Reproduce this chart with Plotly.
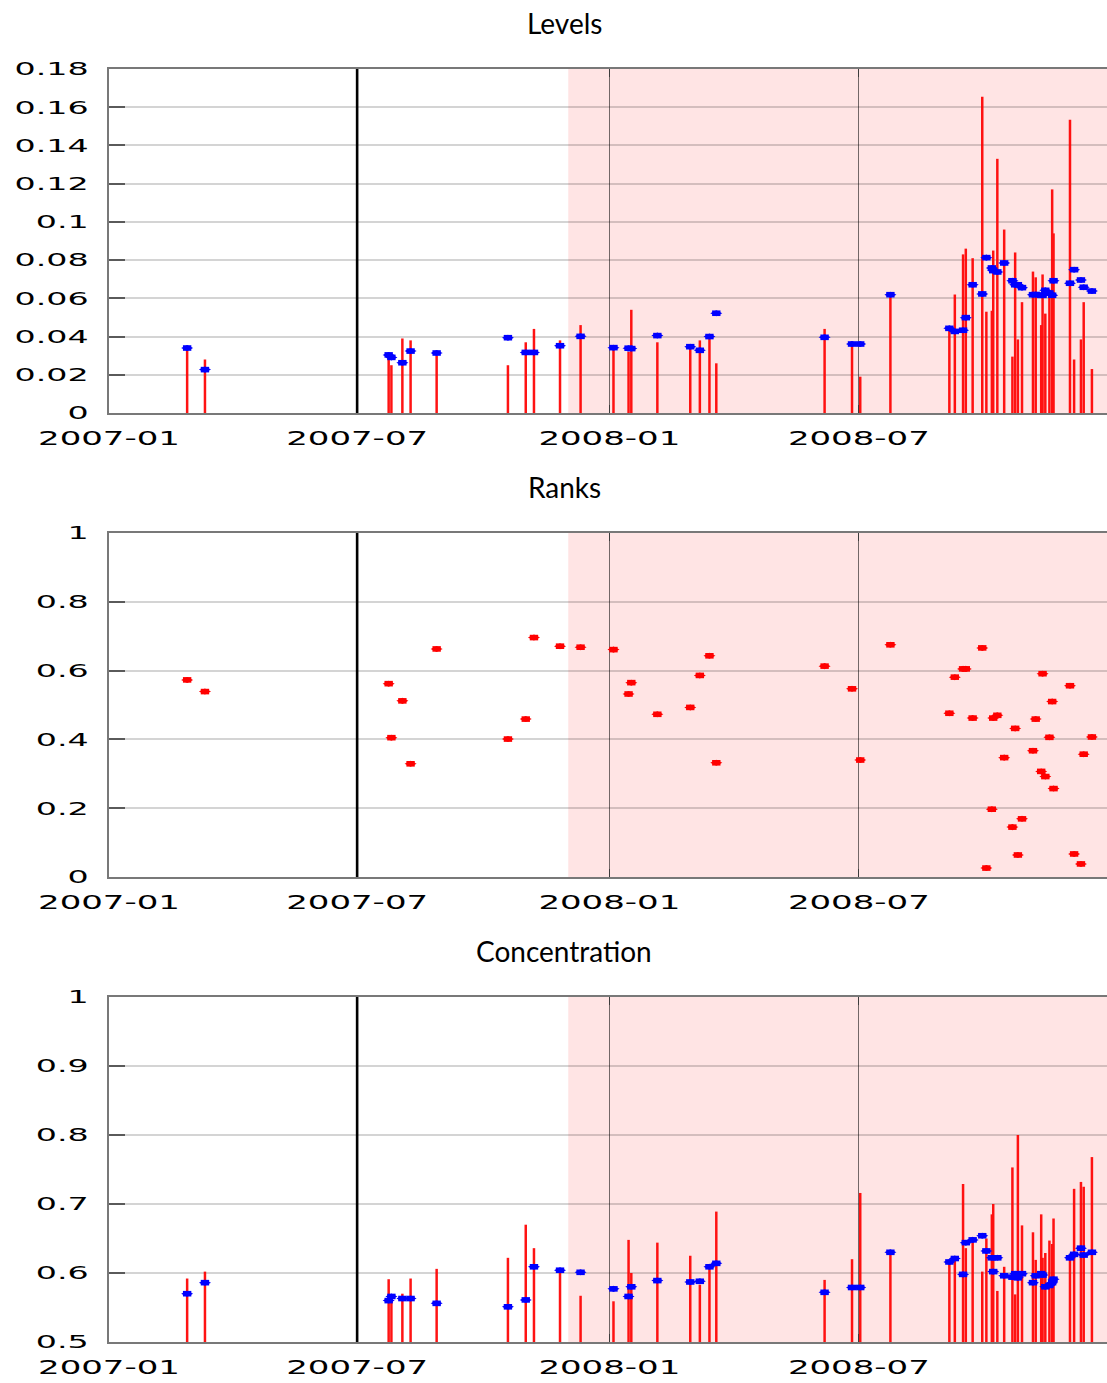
import plotly.graph_objects as go

# ---------------- data ----------------
dates = [
    "2007-02-27", "2007-03-12", "2007-07-24", "2007-07-26", "2007-08-03", "2007-08-09",
    "2007-08-28", "2007-10-19", "2007-11-01", "2007-11-07", "2007-11-26", "2007-12-11",
    "2008-01-04", "2008-01-15", "2008-01-17", "2008-02-05", "2008-02-29", "2008-03-07",
    "2008-03-14", "2008-03-19",
    "2008-06-06", "2008-06-26", "2008-07-02", "2008-07-24",
    "2008-09-05", "2008-09-09", "2008-09-15", "2008-09-17", "2008-09-22", "2008-09-29",
    "2008-10-02", "2008-10-06", "2008-10-07", "2008-10-10", "2008-10-15", "2008-10-21",
    "2008-10-23", "2008-10-25", "2008-10-28",
    "2008-11-05", "2008-11-07", "2008-11-11", "2008-11-12", "2008-11-14", "2008-11-17",
    "2008-11-19", "2008-11-20",
    "2008-12-02", "2008-12-05", "2008-12-10", "2008-12-12", "2008-12-18",
]

level_val = [
    0.034, 0.028, 0.030, 0.025, 0.039, 0.038, 0.030, 0.025, 0.037, 0.044, 0.038, 0.046,
    0.033, 0.032, 0.054, 0.037, 0.034, 0.038, 0.039, 0.026,
    0.044, 0.0375, 0.019, 0.061,
    0.043, 0.062, 0.083, 0.086, 0.081, 0.1655, 0.053, 0.0535, 0.085, 0.133, 0.096, 0.0295,
    0.084, 0.0385, 0.058,
    0.074, 0.071, 0.046, 0.0725, 0.052, 0.062, 0.117, 0.094,
    0.1535, 0.028, 0.0385, 0.058, 0.023,
]
level_avg = [
    0.0340, 0.0227, 0.0304, 0.0291, 0.0263, 0.0324, 0.0314, 0.0394, 0.0317, 0.0317, 0.0352, 0.0401,
    0.0342, 0.0339, 0.0337, 0.0405, 0.0347, 0.0328, 0.0400, 0.0522,
    0.0396, 0.0361, 0.0361, 0.0619,
    0.0443, 0.0427, 0.0433, 0.0499, 0.0671, 0.0623, 0.0813, 0.0759, 0.0745, 0.0738, 0.0785, 0.0692,
    0.0671, 0.0671, 0.0656,
    0.0619, 0.0620, 0.0616, 0.0616, 0.0642, 0.0628, 0.0616, 0.0692,
    0.0679, 0.0750, 0.0696, 0.0658, 0.0638,
]
rank_val = [
    0.573, 0.539, 0.562, 0.405, 0.512, 0.329, 0.663, 0.401, 0.459, 0.696, 0.671, 0.668,
    0.661, 0.532, 0.565, 0.473, 0.493, 0.586, 0.643, 0.332,
    0.613, 0.547, 0.340, 0.675,
    0.476, 0.581, 0.605, 0.605, 0.462, 0.666, 0.026, 0.197, 0.462, 0.470, 0.347, 0.145,
    0.432, 0.064, 0.169,
    0.367, 0.459, 0.307, 0.591, 0.292, 0.406, 0.510, 0.257,
    0.556, 0.067, 0.038, 0.357, 0.407,
]
conc_val = [
    0.592, 0.602, 0.591, 0.565, 0.570, 0.592, 0.606, 0.622, 0.670, 0.636, 0.603, 0.567,
    0.559, 0.648, 0.600, 0.644, 0.625, 0.583, 0.607, 0.689,
    0.590, 0.620, 0.716, 0.629,
    0.616, 0.620, 0.729, 0.636, 0.648, 0.602, 0.650, 0.685, 0.700, 0.574, 0.609, 0.753,
    0.569, 0.800, 0.669,
    0.659, 0.619, 0.685, 0.622, 0.629, 0.647, 0.642, 0.679,
    0.621, 0.722, 0.732, 0.725, 0.768,
]
conc_avg = [
    0.570, 0.586, 0.560, 0.566, 0.563, 0.563, 0.556, 0.551, 0.561, 0.609, 0.604, 0.601,
    0.577, 0.566, 0.580, 0.589, 0.587, 0.588, 0.609, 0.614,
    0.572, 0.579, 0.579, 0.630,
    0.616, 0.621, 0.598, 0.644, 0.648, 0.654, 0.632, 0.622, 0.602, 0.622, 0.596, 0.594,
    0.599, 0.593, 0.599,
    0.586, 0.596, 0.599, 0.597, 0.580, 0.582, 0.586, 0.591,
    0.622, 0.627, 0.636, 0.626, 0.630,
]

titles = ["Levels", "Ranks", "Concentration"]
y_ranges = [[0, 0.18], [0, 1], [0.5, 1]]
y_dticks = [0.02, 0.2, 0.1]
x_range = ["2007-01-01", "2008-12-29"]
break_date = "2007-07-01"
crisis_start = "2007-12-02"
crisis_end = "2009-01-01"

# ---------------- layout geometry ----------------
W, H = 1107, 1383
M_L, M_R, M_T, M_B = 109, 0, 69, 41
plot_h = H - M_T - M_B
panels_px = [(69, 413), (533, 877), (997, 1342)]  # top, bottom in page pixels
domains = [[1 - (b - M_T) / plot_h, 1 - (t - M_T) / plot_h] for t, b in panels_px]

RED = "rgb(255,0,0)"
BLUE = "rgb(0,0,255)"
GRID_H = "rgba(0,0,0,0.17)"
GRID_V = "rgba(0,0,0,0.55)"
AXIS_C = "rgb(120,120,120)"
XTICK_FONT = dict(family="DejaVu Sans", size=20, color="black")
YTICK_FONT = dict(family="DejaVu Sans", size=18, color="black")

fig = go.Figure()


def stems(xs, ys, base):
    sx, sy = [], []
    for x, y in zip(xs, ys):
        sx += [x, x, None]
        sy += [base, y, None]
    return sx, sy


def ellipse_dots(xs, ys, color, xa, ya):
    # an elliptical dot built from a wide diamond and a short thick horizontal bar
    fig.add_trace(go.Scatter(x=xs, y=ys, mode="markers", xaxis=xa, yaxis=ya,
                             marker=dict(symbol="diamond-wide", size=8.6, color=color,
                                         line=dict(width=0)),
                             showlegend=False, hoverinfo="skip"))
    fig.add_trace(go.Scatter(x=xs, y=ys, mode="markers", xaxis=xa, yaxis=ya,
                             marker=dict(symbol="line-ew", size=6.0,
                                         line=dict(width=5.6, color=color)),
                             showlegend=False, hoverinfo="skip"))


# Levels
sx, sy = stems(dates, level_val, 0)
fig.add_trace(go.Scatter(x=sx, y=sy, mode="lines", xaxis="x", yaxis="y",
                         line=dict(color=RED, width=2.5), opacity=0.92,
                         showlegend=False, hoverinfo="skip"))
ellipse_dots(dates, level_avg, BLUE, "x", "y")

# Ranks
ellipse_dots(dates, rank_val, RED, "x2", "y2")

# Concentration
sx, sy = stems(dates, conc_val, y_ranges[2][0])
fig.add_trace(go.Scatter(x=sx, y=sy, mode="lines", xaxis="x3", yaxis="y3",
                         line=dict(color=RED, width=2.5), opacity=0.92,
                         showlegend=False, hoverinfo="skip"))
ellipse_dots(dates, conc_avg, BLUE, "x3", "y3")

layout = dict(
    width=W, height=H,
    margin=dict(l=M_L, r=M_R, t=M_T, b=M_B, pad=0),
    paper_bgcolor="white", plot_bgcolor="white",
    showlegend=False,
)

shapes = []
annotations = []
for i in range(3):
    sfx = "" if i == 0 else str(i + 1)
    layout["xaxis" + sfx] = dict(
        domain=[0, 1], anchor="y" + sfx, type="date", range=x_range,
        tick0="2007-01-01", dtick="M6", tickformat="%Y-%m",
        showgrid=True, gridcolor=GRID_V, gridwidth=1,
        ticks="inside", ticklen=8, tickwidth=1, tickcolor="rgb(60,60,60)",
        showline=True, linecolor=AXIS_C, linewidth=1.5, mirror="ticks",
        tickfont=XTICK_FONT, ticklabelstandoff=6, zeroline=False,
    )
    layout["yaxis" + sfx] = dict(
        domain=domains[i], anchor="x" + sfx, range=y_ranges[i], dtick=y_dticks[i],
        tick0=y_ranges[i][0],
        showgrid=True, gridcolor=GRID_H, gridwidth=2,
        ticks="inside", ticklen=16, tickwidth=1.5, tickcolor="rgb(90,90,90)",
        showline=True, linecolor=AXIS_C, linewidth=1.5, mirror=False,
        tickfont=YTICK_FONT, ticklabelstandoff=15, zeroline=False,
    )
    # right-hand mirrored ticks (the right border itself lies off the page)
    layout["yaxis" + str(i + 4)] = dict(
        overlaying="y" + sfx, side="right", anchor="x" + sfx, range=y_ranges[i],
        dtick=y_dticks[i], tick0=y_ranges[i][0],
        showgrid=False, showline=False, zeroline=False, showticklabels=False,
        ticks="inside", ticklen=15, tickwidth=1.5, tickcolor="rgb(90,90,90)",
    )
    shapes.append(dict(type="rect", xref="x" + sfx, yref="y" + sfx + " domain",
                       x0=crisis_start, x1=crisis_end, y0=0, y1=1,
                       fillcolor="rgba(255,0,0,0.105)", line=dict(width=0), layer="below"))
    shapes.append(dict(type="line", xref="x" + sfx, yref="y" + sfx + " domain",
                       x0=break_date, x1=break_date, y0=0, y1=1,
                       line=dict(color="black", width=2.6), layer="above"))
    annotations.append(dict(text=titles[i], xref="paper", yref="paper",
                            x=(564 - M_L) / (W - M_L - M_R), y=domains[i][1],
                            xanchor="center", yanchor="middle", yshift=46,
                            showarrow=False,
                            font=dict(family="Lato", size=28, color="black")))

layout["shapes"] = shapes
layout["annotations"] = annotations
fig.update_layout(**layout)

# widen the tick-label glyphs horizontally (the reference uses a very wide face)
post = """
var gd = document.getElementById('{plot_id}');
function stretch(sel, s, anchor){
  gd.querySelectorAll(sel).forEach(function(t){
    var cur = t.getAttribute('transform') || '';
    var last = t.getAttribute('data-stretched');
    var orig = (last !== null && cur === last) ? t.getAttribute('data-orig') : cur;
    t.setAttribute('data-orig', orig);
    var b = t.getBBox();
    var cx = (anchor === 'end') ? (b.x + b.width) : (b.x + b.width / 2);
    var tf = orig + ' translate(' + cx + ',0) scale(' + s + ',1) translate(' + (-cx) + ',0)';
    t.setAttribute('transform', tf);
    t.setAttribute('data-stretched', tf);
  });
}
function fix(){
  stretch('g.xaxislayer-above text', 1.7, 'middle');
  stretch('g.yaxislayer-above text', 1.85, 'end');
}
fix();
if (gd.on) { gd.on('plotly_afterplot', fix); }
setTimeout(fix, 50);
"""

fig.write_html("out.html", post_script=post)
